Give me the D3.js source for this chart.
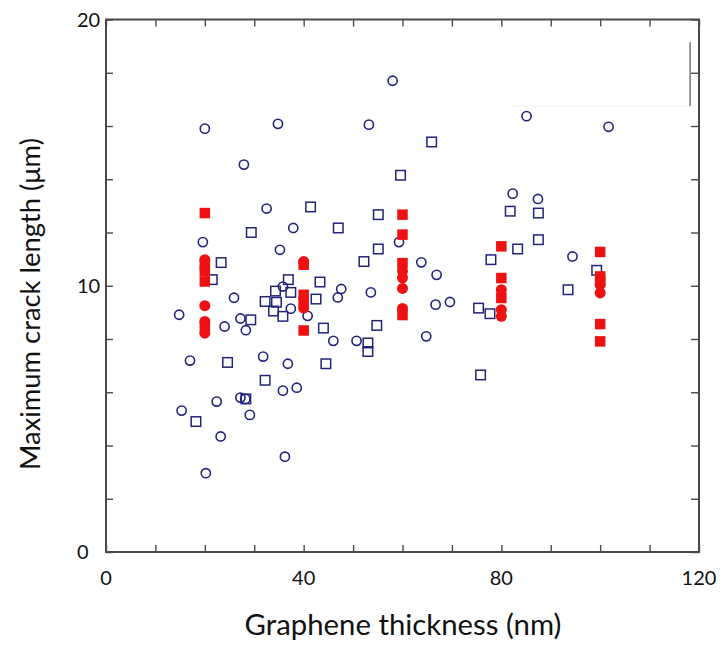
<!DOCTYPE html>
<html><head><meta charset="utf-8">
<script src="https://cdn.jsdelivr.net/npm/d3@7"></script>
<style>body{margin:0;background:#fff}svg{display:block}</style>
</head><body>
<svg id="c" width="723" height="646"></svg>
<script>
// ---- data ----
const xTickLabels = [0, 40, 80, 120];
const yTickLabels = [0, 10, 20];
const xTitle = "Graphene thickness (nm)";
const yTitle = "Maximum crack length (μm)";

const blueCircles = [
  [32.5,12.9],[37.9,12.17],[19.6,11.64],[35.2,11.35],[35.8,9.97],[37.4,9.14],[25.9,9.55],
  [14.8,8.91],[27.2,8.77],[24,8.47],[28.3,8.33],[17,7.19],[31.8,7.34],[36.8,7.07],
  [59.3,11.64],[63.8,10.88],[66.9,10.41],[47.6,9.88],[46.9,9.56],[53.6,9.75],[40.8,8.87],
  [66.7,9.29],[69.6,9.39],[46,7.93],[50.7,7.93],[64.8,8.1],[82.3,13.46],[87.4,13.26],
  [94.4,11.1],[35.8,6.06],[38.6,6.17],[15.3,5.31],[22.4,5.65],[27.2,5.8],[28.2,5.75],
  [29.1,5.15],[23.2,4.34],[36.2,3.58],[20.2,2.96],[20,15.9],[34.8,16.08],[27.9,14.55],
  [58,17.7],[53.2,16.05],[85.1,16.37],[101.7,15.97]
];
const blueSquares = [
  [29.4,12.0],[23.3,10.87],[21.5,10.23],[36.9,10.23],[34.3,9.8],[37.4,9.75],[32.2,9.41],
  [34.5,9.38],[33.9,9.05],[35.8,8.85],[29.3,8.72],[24.6,7.12],[32.2,6.45],[59.6,14.15],
  [41.4,12.96],[55.1,12.67],[47,12.17],[55.1,11.38],[52.2,10.91],[43.3,10.14],[42.5,9.5],
  [75.4,9.16],[77.7,8.95],[77.9,10.98],[44,8.41],[54.8,8.51],[53,7.85],[53,7.53],
  [44.5,7.07],[75.8,6.65],[81.8,12.8],[87.5,12.73],[87.5,11.73],[83.3,11.38],[99.3,10.58],
  [93.5,9.85],[65.9,15.4],[28.3,5.75],[18.2,4.9]
];
const redSquares = [
  [20,12.73],[20,10.8],[20,10.55],[20,10.16],[20,8.47],
  [40,10.79],[40,9.66],[40,9.41],[40,8.32],
  [60,12.67],[60,11.92],[60,10.85],[60,8.9],
  [80,11.48],[80,10.29],[80,9.54],
  [100,11.27],[100,10.35],[100,10.2],[100,8.56],[100,7.91]
];
const redCircles = [
  [20,10.98],[20,9.25],[20,8.66],[20,8.22],
  [40,10.91],[40,9.16],
  [60,10.55],[60,10.3],[60,9.9],[60,9.15],
  [80,9.85],[80,9.1],[80,8.85],
  [100,10.04],[100,9.73]
];

// ---- chart ----
const svg = d3.select("#c");
const x = d3.scaleLinear().domain([0,120]).range([106,699]);
const y = d3.scaleLinear().domain([0,20]).range([552,19.5]);
const axisCol = "#4a4a4a";
const blue = "#23247c";
const red = "#ee1111";
const font = "Lato, 'Open Sans', sans-serif";

// artifact lines (top right)
svg.append("line").attr("x1", x(81.8)).attr("x2", x(118.2)).attr("y1", y(16.75)).attr("y2", y(16.75))
  .attr("stroke", "#f1f1f1").attr("stroke-width", 1);
svg.append("line").attr("x1", x(118.2)).attr("x2", x(118.2)).attr("y1", y(19.15)).attr("y2", y(16.75))
  .attr("stroke", "#777").attr("stroke-width", 1.5);

const xt = d3.range(0, 121, 10), yt = d3.range(0, 21, 2);
function styleAxis(g){
  g.select(".domain").remove();
  g.selectAll("line").attr("stroke", axisCol).attr("stroke-width", 1.4);
  g.selectAll("text").remove();
}
svg.append("g").attr("transform", `translate(0,${y(0)})`)
  .call(d3.axisBottom(x).tickValues(xt).tickSize(-7)).call(styleAxis);
svg.append("g").attr("transform", `translate(0,${y(20)})`)
  .call(d3.axisTop(x).tickValues(xt).tickSize(-7)).call(styleAxis);
svg.append("g").attr("transform", `translate(${x(0)},0)`)
  .call(d3.axisLeft(y).tickValues(yt).tickSize(-7)).call(styleAxis);
svg.append("g").attr("transform", `translate(${x(120)},0)`)
  .call(d3.axisRight(y).tickValues(yt).tickSize(-8)).call(styleAxis);
svg.append("rect").attr("x", x(0)).attr("y", y(20)).attr("width", x(120)-x(0)).attr("height", y(0)-y(20))
  .attr("fill", "none").attr("stroke", axisCol).attr("stroke-width", 2);

// markers
svg.append("g").selectAll("circle").data(blueCircles).join("circle")
  .attr("cx", d => x(d[0])).attr("cy", d => y(d[1])).attr("r", 4.6)
  .attr("fill", "none").attr("stroke", blue).attr("stroke-width", 1.6);
const sq = 9.5;
svg.append("g").selectAll("rect").data(blueSquares).join("rect")
  .attr("x", d => x(d[0]) - sq/2).attr("y", d => y(d[1]) - sq/2).attr("width", sq).attr("height", sq)
  .attr("fill", "none").attr("stroke", blue).attr("stroke-width", 1.5);
const rs = 10.5;
svg.append("g").selectAll("rect").data(redSquares).join("rect")
  .attr("x", d => x(d[0]) - rs/2).attr("y", d => y(d[1]) - rs/2).attr("width", rs).attr("height", rs)
  .attr("fill", red);
svg.append("g").selectAll("circle").data(redCircles).join("circle")
  .attr("cx", d => x(d[0])).attr("cy", d => y(d[1])).attr("r", 5.5).attr("fill", red);

// tick labels
svg.append("g").selectAll("text").data(xTickLabels).join("text")
  .attr("x", d => x(d)).attr("y", 578).attr("dy", "0.35em").attr("text-anchor", "middle")
  .attr("font-family", font).attr("font-size", 20).attr("fill", "#111").text(d => d);
svg.append("g").selectAll("text").data(yTickLabels).join("text")
  .attr("x", 77).attr("y", d => y(d)).attr("dy", "0.35em").attr("text-anchor", "start")
  .attr("font-family", font).attr("font-size", 20).attr("fill", "#111").text(d => d);

// titles
function fit(t, target){ const w = t.node().getComputedTextLength(); const fs = +t.attr("font-size"); t.attr("font-size", fs*target/w); }
const tx = svg.append("text").attr("x", 403).attr("y", 625).attr("dy", "0.35em").attr("text-anchor", "middle")
  .attr("font-family", font).attr("font-size", 28).attr("fill", "#111").text(xTitle);
fit(tx, 317);
const ty = svg.append("text").attr("transform", "translate(30,304) rotate(-90)").attr("dy", "0.35em")
  .attr("text-anchor", "middle").attr("font-family", font).attr("font-size", 28).attr("fill", "#111").text(yTitle);
fit(ty, 332);
</script>
</body></html>
